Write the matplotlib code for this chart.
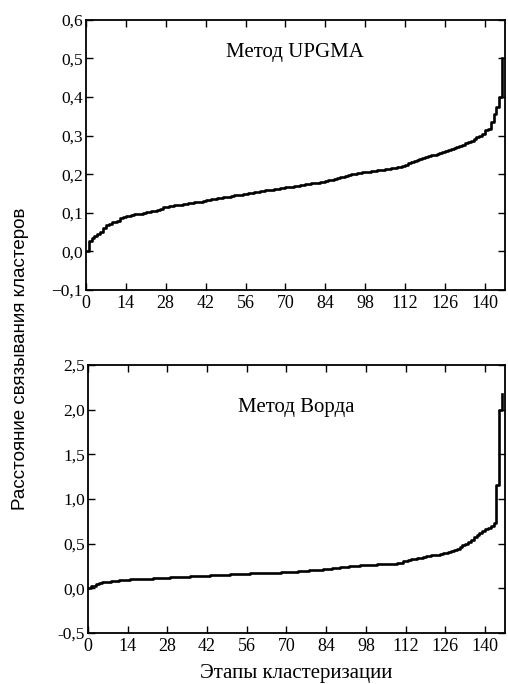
import numpy as np
import matplotlib
matplotlib.use("Agg")
import matplotlib.pyplot as plt

# этапы кластеризации 0..146
stages = list(range(147))

upgma = [
    0.000, 0.028, 0.035, 0.040, 0.045, 0.050, 0.060, 0.068, 0.072, 0.075,
    0.077, 0.080, 0.087, 0.090, 0.091, 0.093, 0.095, 0.096, 0.097, 0.098,
    0.100, 0.101, 0.103, 0.104, 0.106, 0.108, 0.111, 0.114, 0.116, 0.117,
    0.118, 0.119, 0.120, 0.121, 0.122, 0.124, 0.125, 0.126, 0.127, 0.128,
    0.129, 0.131, 0.133, 0.134, 0.135, 0.137, 0.138, 0.139, 0.140, 0.141,
    0.142, 0.144, 0.145, 0.146, 0.147, 0.149, 0.150, 0.151, 0.152, 0.153,
    0.155, 0.156, 0.157, 0.158, 0.159, 0.160, 0.161, 0.163, 0.164, 0.165,
    0.166, 0.167, 0.168, 0.169, 0.170, 0.171, 0.172, 0.174, 0.175, 0.176,
    0.177, 0.178, 0.180, 0.181, 0.183, 0.184, 0.186, 0.188, 0.190, 0.192,
    0.194, 0.196, 0.198, 0.200, 0.201, 0.203, 0.204, 0.205, 0.206, 0.207,
    0.208, 0.209, 0.210, 0.211, 0.212, 0.213, 0.214, 0.215, 0.217, 0.218,
    0.220, 0.222, 0.225, 0.228, 0.231, 0.234, 0.237, 0.240, 0.243, 0.245,
    0.247, 0.249, 0.251, 0.253, 0.255, 0.257, 0.259, 0.262, 0.265, 0.268,
    0.271, 0.274, 0.277, 0.280, 0.283, 0.287, 0.291, 0.296, 0.300, 0.305,
    0.315, 0.318, 0.335, 0.355, 0.375, 0.400, 0.500,
]

ward = [
    0.000, 0.020, 0.030, 0.050, 0.060, 0.065, 0.070, 0.075, 0.080, 0.083,
    0.086, 0.089, 0.092, 0.095, 0.097, 0.099, 0.100, 0.102, 0.104, 0.106,
    0.107, 0.108, 0.109, 0.110, 0.112, 0.114, 0.116, 0.118, 0.120, 0.121,
    0.123, 0.124, 0.126, 0.127, 0.129, 0.131, 0.132, 0.134, 0.135, 0.137,
    0.139, 0.140, 0.142, 0.144, 0.146, 0.148, 0.149, 0.151, 0.152, 0.154,
    0.155, 0.157, 0.158, 0.160, 0.161, 0.163, 0.164, 0.166, 0.167, 0.168,
    0.169, 0.170, 0.171, 0.172, 0.173, 0.174, 0.175, 0.176, 0.177, 0.178,
    0.180, 0.182, 0.184, 0.187, 0.189, 0.192, 0.194, 0.197, 0.199, 0.202,
    0.205, 0.207, 0.210, 0.213, 0.217, 0.220, 0.224, 0.227, 0.231, 0.235,
    0.238, 0.242, 0.246, 0.250, 0.252, 0.254, 0.256, 0.258, 0.259, 0.261,
    0.263, 0.265, 0.267, 0.269, 0.270, 0.272, 0.274, 0.276, 0.277, 0.279,
    0.280, 0.300, 0.310, 0.317, 0.323, 0.330, 0.336, 0.342, 0.350, 0.356,
    0.362, 0.367, 0.373, 0.378, 0.384, 0.390, 0.397, 0.405, 0.415, 0.428,
    0.445, 0.462, 0.480, 0.500, 0.520, 0.545, 0.570, 0.595, 0.620, 0.645,
    0.665, 0.680, 0.700, 0.730, 1.160, 2.000, 2.170,
]

xticks = [0, 14, 28, 42, 56, 70, 84, 98, 112, 126, 140]
upgma_yticks = [-0.1, 0.0, 0.1, 0.2, 0.3, 0.4, 0.5, 0.6]
upgma_ylabels = ["\u22120,1", "0,0", "0,1", "0,2", "0,3", "0,4", "0,5", "0,6"]
ward_yticks = [-0.5, 0.0, 0.5, 1.0, 1.5, 2.0, 2.5]
ward_ylabels = ["-0,5", "0,0", "0,5", "1,0", "1,5", "2,0", "2,5"]

serif = "Liberation Serif"
sans = "Liberation Sans"

fig = plt.figure(figsize=(5.08, 6.84), dpi=100)
ax1 = fig.add_axes([0.169, 0.576, 0.825, 0.395])
ax2 = fig.add_axes([0.173, 0.0746, 0.821, 0.392])


def style_axis(ax, yticks, ylabels, ylim):
    ax.set_xlim(0, 147)
    ax.set_ylim(*ylim)
    ax.set_xticks(xticks)
    ax.set_xticklabels([str(t) for t in xticks], fontfamily=serif, fontsize=13)
    ax.set_yticks(yticks)
    ax.set_yticklabels(ylabels, fontfamily=serif, fontsize=12.5)
    ax.tick_params(direction="in", top=True, right=True, length=5, width=1.0)
    ax.tick_params(axis="x", pad=3.5)
    ax.tick_params(axis="y", pad=2)
    for sp in ax.spines.values():
        sp.set_linewidth(1.3)


ax1.plot(stages, upgma, drawstyle="steps-post", color="black", lw=1.9)
style_axis(ax1, upgma_yticks, upgma_ylabels, (-0.1, 0.6))
ax1.text(0.5, 0.88, "Метод UPGMA", transform=ax1.transAxes,
         ha="center", va="center", fontfamily=serif, fontsize=15)

ax2.plot(stages, ward, drawstyle="steps-post", color="black", lw=1.9)
style_axis(ax2, ward_yticks, ward_ylabels, (-0.5, 2.5))
ax2.text(0.5, 0.84, "Метод Ворда", transform=ax2.transAxes,
         ha="center", va="center", fontfamily=serif, fontsize=15)

ax2.set_xlabel("Этапы кластеризации", fontfamily=serif, fontsize=15,
               labelpad=6.5)
fig.text(0.04, 0.475, "Расстояние связывания кластеров", rotation=90,
         ha="center", va="center", fontfamily=sans, fontsize=13.5)

fig.savefig("out.png", dpi=100)
